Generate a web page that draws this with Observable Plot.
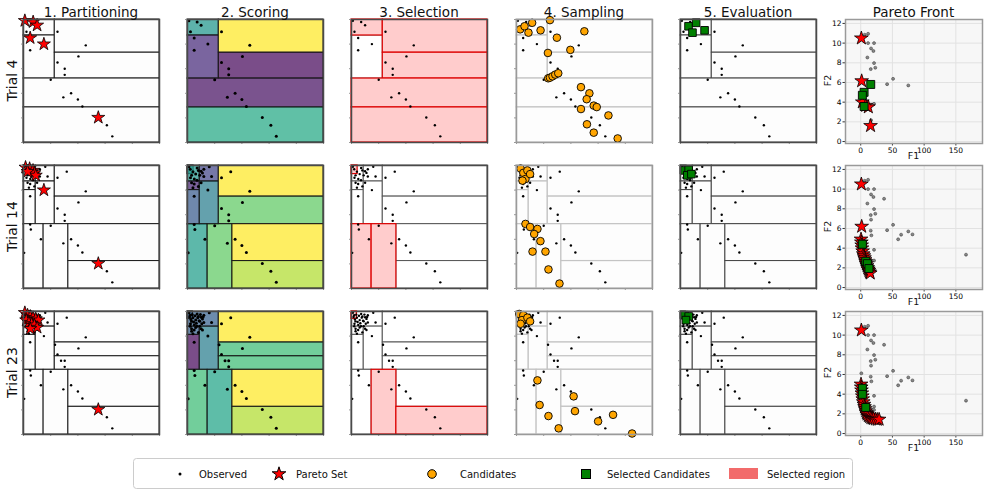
<!DOCTYPE html>
<html><head><meta charset="utf-8">
<script src="https://cdn.jsdelivr.net/npm/d3@7"></script>
<script src="https://cdn.jsdelivr.net/npm/@observablehq/plot@0.6"></script>
<style>
body{margin:0;background:#fff;font-family:"DejaVu Sans",sans-serif;}
#root{position:relative;width:987px;height:493px;overflow:hidden;background:#fff;}
#root svg{position:absolute;}
</style></head><body><div id="root"></div>
<script>
// ---------------- DATA ----------------
const columnTitles = ["1. Partitioning","2. Scoring","3. Selection","4. Sampling","5. Evaluation","Pareto Front"];
const trialNames = ["Trial 4","Trial 14","Trial 23"];
const unitTicks = [0,0.2,0.4,0.6,0.8,1];
const f1Ticks = [0,50,100,150];
const f2Ticks = [0,2,4,6,8,10,12];

// decision space observed points (trial 4)
const obs4 = [[.010,.990],[.071,.980],[.100,.953],[.022,.900],[.049,.850],[.150,.800],[.049,.750],[.250,.900],[.458,.790],[.404,.700],[.250,.650],[.303,.600],[.303,.550],[.200,.510],[.350,.400],[.293,.367],[.400,.350],[.433,.293],[.550,.203],[.613,.140],[.653,.050]];
const obs14Extra = [[.020,.970],[.040,.950],[.060,.930],[.030,.920],[.080,.960],[.090,.920],[.110,.940],[.120,.910],[.050,.890],[.070,.880],[.030,.860],[.100,.860],[.080,.830],[.040,.820],[.120,.970],[.160,.990],[.177,.910],[.318,.950],[.005,.290],[.049,.520],[.054,.480],[.128,.400]];
const obs23Extra = [[.276,.600],[.232,.730],[.015,.955],[.035,.975],[.055,.965],[.075,.950],[.095,.975],[.115,.955],[.025,.935],[.045,.915],[.065,.905],[.085,.925],[.105,.900],[.020,.880],[.060,.870],[.090,.880],[.110,.850],[.030,.840]];

const stars4 = [[.010,.990],[.071,.980],[.100,.953],[.049,.850],[.150,.800],[.550,.203]];
const stars14 = [[.015,.985],[.045,.975],[.070,.960],[.080,.940],[.090,.920],[.030,.950],[.150,.800],[.550,.203]];
const stars23 = [[.010,.990],[.030,.970],[.050,.960],[.070,.950],[.090,.940],[.110,.930],[.020,.930],[.040,.910],[.060,.900],[.080,.890],[.100,.870],[.050,.860],[.550,.203]];

const cand4 = [[.027,.920],[.059,.945],[.115,.973],[.088,.893],[.177,.912],[.246,.995],[.297,.852],[.499,.904],[.396,.753],[.231,.728],[.233,.522],[.246,.527],[.265,.538],[.285,.552],[.307,.563],[.474,.450],[.536,.400],[.516,.352],[.568,.300],[.590,.288],[.474,.272],[.676,.220],[.518,.148],[.568,.080],[.744,.033]];
const cand14 = [[.030,.975],[.050,.940],[.080,.960],[.066,.890],[.100,.930],[.044,.877],[.066,.525],[.100,.500],[.154,.484],[.130,.443],[.176,.385],[.118,.300],[.213,.300],[.235,.155],[.316,.040]];
const cand23 = [[.020,.980],[.050,.970],[.040,.930],[.080,.950],[.100,.920],[.030,.900],[.154,.440],[.170,.240],[.235,.150],[.310,.050],[.420,.310],[.430,.190],[.600,.107],[.710,.160],[.850,.008]];

const sel4 = [[.059,.945],[.115,.973],[.088,.893],[.177,.912]];
const sel14 = [[.030,.960],[.060,.965],[.050,.920],[.080,.930]];
const sel23 = [[.030,.970],[.060,.960],[.040,.930]];

// partitions: [x1, x2, y1, y2, score, selected]
const rects4 = [[0,.23,.87,1,.52,1],[0,.23,.52,.87,.12,0],[.23,1,.73,1,1,1],[.23,1,.52,.73,.02,1],[0,1,.285,.52,.04,1],[0,1,0,.285,.6,1]];
const rects14 = [[0,.045,.93,1,.55,1],[0,.09,.87,1,.52,0],[.09,.23,.87,1,.2,0],[0,.09,.80,.87,.1,0],[0,.09,.52,.80,.28,0],[.09,.23,.52,.87,.42,0],[.23,1,.747,1,1,0],[.23,1,.523,.747,.75,0],[0,.148,0,.523,.55,1],[.148,.33,0,.523,.75,1],[.33,1,.223,.523,1,0],[.33,1,0,.223,.88,0]];
const rects23 = [[0,.23,.877,1,.3,0],[0,.04,.94,1,.3,1],[0,.09,.81,.877,.3,0],[0,.09,.526,.81,.02,0],[.09,.23,.526,.877,.42,0],[.23,1,.748,1,1,0],[.23,1,.636,.748,.68,0],[.23,1,.526,.636,.68,0],[0,.148,0,.526,.68,0],[.148,.33,0,.526,.58,1],[.33,1,.225,.526,1,0],[.33,1,0,.225,.88,1]];

// objective space (F1, F2)
const pfObs4 = [[6.3,10.85],[11.6,10.95],[11.6,10.0],[21,10.0],[16.3,9.46],[20,9.2],[10.5,8.54],[21,7.97],[23,7.5],[15.8,7.36],[41.6,5.83],[51,6.37],[75,5.7],[21,3.83],[16.3,2.17]];
const pfObs14Extra = [[36.8,9.02],[16.3,6.9],[15.8,5.78],[16.8,5.3],[21,2.74],[59,4.9],[63.7,5.37],[81.6,5.4],[166,3.34],[19,2.0],[18,1.6]];
const pfObs23Extra = [[1,6.12],[21,2.4],[20,1.3],[24,1.7]];
const pfStars4 = [[1,10.5],[1.5,6.15],[2.5,4.0],[8,3.65],[12,3.5],[15.5,1.6]];
const pfStars14 = [[1,10.5],[1.5,6.2],[0.5,4.9],[1,4.6],[1.5,4.3],[2,4.0],[3,3.7],[4,3.4],[5,3.2],[6,3.0],[7,2.8],[8,2.6],[9,2.4],[10,2.2],[11,2.0],[12,1.85],[13,1.7],[14,1.55],[15,1.45]];
const pfStars23 = [[1,10.5],[0.5,5.0],[0.8,4.7],[1.2,4.4],[1.8,4.1],[2.5,3.8],[3.2,3.5],[4,3.2],[5,2.95],[6,2.7],[7,2.5],[8,2.3],[9,2.1],[10,1.95],[12,1.8],[14,1.7],[16,1.6],[18,1.55],[20,1.5],[23,1.45],[26,1.42],[29,1.43]];
const pfSel4 = [[15.8,5.8],[5.3,5.0],[2.6,4.7],[5.3,3.56]];
const pfSel14 = [[2.6,4.4],[7.9,2.67],[10.5,2.43],[13,1.93]];
const pfSel23 = [[2.6,4.6],[2.6,3.98],[7.9,2.65]];

const legendLabels = ["Observed","Pareto Set","Candidates","Selected Candidates","Selected region"];

// ---------------- BUILD ----------------
const pts = a => a.map(([x,y]) => ({x,y}));
const rects = a => a.map(([x1,x2,y1,y2,score,sel]) => ({x1,x2,y1,y2,score,sel:!!sel}));
const trials = [
  {obs: pts(obs4), stars: pts(stars4), cand: pts(cand4), sel: pts(sel4), rects: rects(rects4),
   pfObs: pts(pfObs4), pfStars: pts(pfStars4), pfSel: pts(pfSel4)},
  {obs: pts(obs4.concat(obs14Extra)), stars: pts(stars14), cand: pts(cand14), sel: pts(sel14), rects: rects(rects14),
   pfObs: pts(pfObs4.concat(pfObs14Extra)), pfStars: pts(pfStars14), pfSel: pts(pfSel14)},
  {obs: pts(obs4.concat(obs14Extra, obs23Extra)), stars: pts(stars23), cand: pts(cand23), sel: pts(sel23), rects: rects(rects23),
   pfObs: pts(pfObs4.concat(pfObs14Extra, pfObs23Extra)), pfStars: pts(pfStars23), pfSel: pts(pfSel23)}
];

// layout
const colLeft = [23, 187, 351, 516, 680, 845];
const rowTop = [19, 165, 311];
const FW = 136, FH = 123, PW = 137;
const root = document.getElementById("root");

function place(svg, left, top) {
  svg.style.left = left + "px"; svg.style.top = top + "px";
  root.append(svg);
}

function decisionPanel(tr, stage, left, top) {
  const mL = 8, mR = 3, mT = 3, mB = 8;
  const R = {x1:"x1", x2:"x2", y1:"y1", y2:"y2"};
  const marks = [];
  if (stage === 0) marks.push(Plot.rect(tr.rects, {...R, fill:"#fdfdfd", stroke:"#1a1a1a", strokeWidth:1}));
  if (stage === 1) {
    marks.push(Plot.rect(tr.rects, {...R, fill:"white"}));
    marks.push(Plot.rect(tr.rects, {...R, fill:"score", fillOpacity:0.72, stroke:"#1a1a1a", strokeWidth:1}));
  }
  if (stage === 2) {
    marks.push(Plot.rect(tr.rects.filter(d => !d.sel), {...R, fill:"white", stroke:"#555", strokeWidth:1}));
    marks.push(Plot.rect(tr.rects.filter(d => d.sel), {...R, fill:"#ffcccc", stroke:"#dd0000", strokeWidth:1.2}));
  }
  if (stage === 3) marks.push(Plot.rect(tr.rects, {...R, fill:"#fdfdfd", stroke:"#c4c4c4", strokeWidth:1.2}));
  if (stage === 4) marks.push(Plot.rect(tr.rects, {...R, fill:"#fdfdfd", stroke:"#444", strokeWidth:1}));
  marks.push(Plot.dot(tr.obs, {x:"x", y:"y", r: stage === 1 ? 1.5 : 1.2, fill:"black"}));
  if (stage === 0) marks.push(Plot.dot(tr.stars, {x:"x", y:"y", symbol:"star", r:4.1, fill:"red", stroke:"black", strokeWidth:0.8}));
  if (stage === 3) marks.push(Plot.dot(tr.cand, {x:"x", y:"y", r:3.8, fill:"orange", stroke:"black", strokeWidth:0.9}));
  if (stage === 4) marks.push(Plot.dot(tr.sel, {x:"x", y:"y", symbol:"square", r:4.3, fill:"green", stroke:"black", strokeWidth:0.9}));
  marks.push(Plot.axisX({ticks: unitTicks, tickSize: 2, tickFormat: () => "", stroke:"#999"}));
  marks.push(Plot.axisY({ticks: unitTicks, tickSize: 2, tickFormat: () => "", stroke:"#999"}));
  marks.push(Plot.frame({stroke: stage === 3 ? "#9a9a9a" : "#4a4a4a", strokeWidth:1.5}));
  const svg = Plot.plot({
    width: FW + mL + mR, height: FH + mT + mB,
    marginLeft: mL, marginRight: mR, marginTop: mT, marginBottom: mB,
    x: {domain:[0,1]}, y: {domain:[0,1]},
    color: {type:"linear", scheme:"viridis", domain:[0,1]},
    style: {background:"transparent", overflow:"visible"},
    marks
  });
  place(svg, left - mL, top - mT);
}

function paretoPanel(tr, left, top) {
  const mL = 22, mR = 3, mT = 3, mB = 14;
  const svg = Plot.plot({
    width: PW + mL + mR, height: FH + 1 + mT + mB,
    marginLeft: mL, marginRight: mR, marginTop: mT, marginBottom: mB,
    x: {domain:[-24,192]}, y: {domain:[-0.2,12.4]},
    style: {background:"transparent", overflow:"visible", fontFamily:"DejaVu Sans"},
    marks: [
      Plot.frame({fill:"#f7f7f7"}),
      Plot.gridX({ticks: f1Ticks, stroke:"#e2e2e2", strokeOpacity:1}),
      Plot.gridY({ticks: f2Ticks, stroke:"#e2e2e2", strokeOpacity:1}),
      Plot.dot(tr.pfObs, {x:"x", y:"y", r:1.5, fill:"#888", stroke:"#333", strokeWidth:0.5}),
      Plot.dot(tr.pfStars, {x:"x", y:"y", symbol:"star", r:4.3, fill:"red", stroke:"black", strokeWidth:0.8}),
      Plot.dot(tr.pfSel, {x:"x", y:"y", symbol:"square", r:4.5, fill:"green", stroke:"black", strokeWidth:0.9}),
      Plot.axisX({ticks: f1Ticks, tickSize: 2.5, tickPadding: 1.5, fontSize: 7.5, label: null, stroke:"#333"}),
      Plot.axisY({ticks: f2Ticks, tickSize: 2.5, tickPadding: 1.5, fontSize: 7.5, label: null, stroke:"#333"}),
      Plot.frame({stroke:"#9a9a9a", strokeWidth:1.5})
    ]
  });
  place(svg, left - mL, top - mT);
}

trials.forEach((tr, r) => {
  for (let s = 0; s < 5; s++) decisionPanel(tr, s, colLeft[s], rowTop[r]);
  paretoPanel(tr, colLeft[5], rowTop[r]);
});

// ---------------- TEXT OVERLAY & LEGEND ----------------
const ov = d3.select(root).append("svg").attr("width", 987).attr("height", 493)
  .style("left", "0px").style("top", "0px").style("font-family", "DejaVu Sans, sans-serif");

columnTitles.forEach((t, i) => {
  const w = i === 5 ? PW : FW;
  ov.append("text").attr("x", colLeft[i] + w / 2).attr("y", 16.5).attr("text-anchor", "middle")
    .attr("font-size", 13.5).attr("fill", "#111").text(t);
});
trialNames.forEach((t, r) => {
  const cy = rowTop[r] + FH / 2;
  ov.append("text").attr("transform", `translate(16.5,${cy}) rotate(-90)`).attr("text-anchor", "middle")
    .attr("font-size", 14).attr("fill", "#111").text(t);
  ov.append("text").attr("x", colLeft[5] + PW / 2).attr("y", rowTop[r] + FH + 16.5).attr("text-anchor", "middle")
    .attr("font-size", 9.5).attr("fill", "#111").text("F1");
  ov.append("text").attr("transform", `translate(831,${cy}) rotate(-90)`).attr("text-anchor", "middle")
    .attr("font-size", 9.5).attr("fill", "#111").text("F2");
});

// legend
const lg = ov.append("g");
lg.append("rect").attr("x", 133.5).attr("y", 458.5).attr("width", 719).attr("height", 30).attr("rx", 3)
  .attr("fill", "white").attr("stroke", "#cccccc");
const ly = 474;
const textX = [199, 296, 460, 607, 767];
lg.append("circle").attr("cx", 180).attr("cy", ly).attr("r", 1.5).attr("fill", "black");
lg.append("path").attr("transform", `translate(279,${ly})`).attr("d", d3.symbol(d3.symbolStar, Math.PI * 4.3 * 4.3)())
  .attr("fill", "red").attr("stroke", "black").attr("stroke-width", 1);
lg.append("circle").attr("cx", 432).attr("cy", ly).attr("r", 4.3).attr("fill", "orange").attr("stroke", "black").attr("stroke-width", 1);
lg.append("rect").attr("x", 581.5).attr("y", ly - 4.5).attr("width", 9).attr("height", 9).attr("fill", "green").attr("stroke", "black").attr("stroke-width", 1);
lg.append("rect").attr("x", 729).attr("y", ly - 6).attr("width", 29).attr("height", 11).attr("fill", "#f26b6b");
legendLabels.forEach((t, i) => {
  lg.append("text").attr("x", textX[i]).attr("y", ly + 4).attr("font-size", 10).attr("fill", "#111").text(t);
});
</script></body></html>
